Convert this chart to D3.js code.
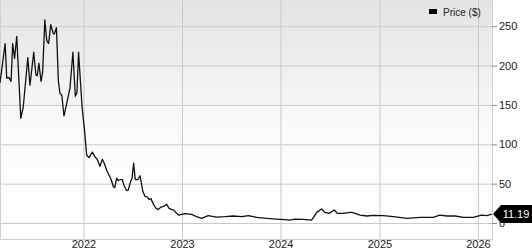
<!DOCTYPE html>
<html>
<head>
<meta charset="utf-8">
<script src="https://cdn.jsdelivr.net/npm/d3@7"></script>
<style>
  html, body { margin: 0; padding: 0; background: #fff; }
  svg { display: block; font-family: "Liberation Sans", Arial, sans-serif; }
</style>
</head>
<body>
<div id="chart"></div>
<script>
// Weekly-ish closing prices
const dates = [
  '2021-02-26', '2021-03-17', '2021-03-23', '2021-03-31', '2021-04-08', '2021-04-14', '2021-04-21', '2021-04-29',
  '2021-05-14', '2021-05-23', '2021-06-09', '2021-06-17', '2021-07-01', '2021-07-09', '2021-07-14', '2021-07-20',
  '2021-07-28', '2021-08-03', '2021-08-11', '2021-08-18', '2021-08-25', '2021-09-02', '2021-09-11', '2021-09-15',
  '2021-09-23', '2021-09-30', '2021-10-06', '2021-10-13', '2021-10-21', '2021-10-31', '2021-11-12', '2021-11-23',
  '2021-12-02', '2021-12-08', '2021-12-14', '2021-12-27', '2022-01-05', '2022-01-13', '2022-01-22', '2022-02-03',
  '2022-02-13', '2022-02-21', '2022-03-03', '2022-03-12', '2022-03-19', '2022-03-28', '2022-04-07', '2022-04-14',
  '2022-04-22', '2022-04-27', '2022-05-04', '2022-05-10', '2022-05-16', '2022-05-25', '2022-06-01', '2022-06-10',
  '2022-06-16', '2022-06-24', '2022-06-30', '2022-07-06', '2022-07-12', '2022-07-21', '2022-07-30', '2022-08-09',
  '2022-08-17', '2022-08-26', '2022-09-01', '2022-09-08', '2022-09-17', '2022-09-26', '2022-10-05', '2022-10-14',
  '2022-10-24', '2022-10-30', '2022-11-05', '2022-11-13', '2022-11-24', '2022-12-02', '2022-12-10', '2022-12-20',
  '2022-12-31', '2023-01-12', '2023-01-28', '2023-02-06', '2023-02-24', '2023-03-15', '2023-04-08', '2023-05-09',
  '2023-06-09', '2023-07-10', '2023-08-10', '2023-09-04', '2023-10-05', '2023-11-11', '2023-12-18', '2024-01-17',
  '2024-02-05', '2024-02-23', '2024-03-25', '2024-04-25', '2024-05-14', '2024-06-01', '2024-06-13', '2024-06-29',
  '2024-07-18', '2024-07-29', '2024-08-20', '2024-09-02', '2024-09-14', '2024-09-20', '2024-10-03', '2024-10-21',
  '2024-11-15', '2024-12-10', '2025-01-16', '2025-02-22', '2025-04-13', '2025-06-01', '2025-07-20', '2025-08-12',
  '2025-09-08', '2025-10-09', '2025-11-08', '2025-12-15', '2026-01-15', '2026-02-03', '2026-02-21'
];
const prices = [
  178, 228, 184, 185, 180, 228, 209, 237,
  133, 147, 210, 175, 217, 188, 187, 203,
  180, 192, 258, 232, 228, 252, 241, 240,
  248, 181, 165, 162, 136, 152, 171, 217,
  161, 166, 217, 147, 118, 86, 83, 90,
  84, 81, 72, 81, 76, 67, 60, 55,
  46, 45, 57, 54, 55, 55, 47, 41,
  42, 52, 57, 76, 55, 55, 60, 40,
  34, 33, 30, 31, 24, 19, 17, 20,
  21, 22, 24, 19, 17, 16.5, 13, 10,
  11, 12, 11.4, 11, 8, 6, 9.3, 7.6,
  8, 8.9, 8, 9.3, 7.2, 6, 5, 4.2,
  3.8, 5, 4.7, 3.8, 13.5, 17.8, 13.5, 12.3,
  16.5, 12.3, 12.3, 13, 13.5, 13.5, 12.3, 10,
  8.9, 9.7, 9.3, 8, 6, 7.2, 7.2, 10,
  8.9, 8.9, 7.2, 7.2, 10, 9.3, 11.19
];
const yTicks = [0, 50, 100, 150, 200, 250];
const xTickYears = ['2022', '2023', '2024', '2025', '2026'];
const seriesName = 'Price ($)';

const W = 532, H = 250;
const plotW = 492, plotH = 239;
const parse = d3.timeParse('%Y-%m-%d');
const data = dates.map((d, i) => ({ date: parse(d), value: prices[i] }));

const svg = d3.select('#chart').append('svg')
  .attr('width', W)
  .attr('height', H);

// background gradient (gray at top fading to white)
const defs = svg.append('defs');
const grad = defs.append('linearGradient')
  .attr('id', 'bg')
  .attr('x1', 0).attr('y1', 0).attr('x2', 0).attr('y2', 1);
grad.append('stop').attr('offset', '0%').attr('stop-color', '#e3e3e3');
grad.append('stop').attr('offset', '55%').attr('stop-color', '#fbfbfb');
grad.append('stop').attr('offset', '100%').attr('stop-color', '#ffffff');

svg.append('rect')
  .attr('width', plotW)
  .attr('height', plotH)
  .attr('fill', 'url(#bg)');

const x = d3.scaleTime()
  .domain([parse('2021-02-26'), parse('2026-02-22')])
  .range([0, plotW]);

const y = d3.scaleLinear()
  .domain([-20.3, 283.3])
  .range([plotH, 0]);

const yearDates = xTickYears.map(s => d3.timeParse('%Y')(s));

// grid lines
svg.append('g')
  .attr('class', 'grid grid--y')
  .call(d3.axisLeft(y).tickValues(yTicks).tickSize(-plotW).tickFormat(''))
  .call(g => g.select('.domain').remove())
  .selectAll('line')
  .attr('stroke', '#c9c9c9');

svg.append('g')
  .attr('class', 'grid grid--x')
  .attr('transform', `translate(0,${plotH})`)
  .call(d3.axisBottom(x).tickValues(yearDates).tickSize(-plotH).tickFormat(''))
  .call(g => g.select('.domain').remove())
  .selectAll('line')
  .attr('stroke', '#c9c9c9');

// plot frame (left, bottom, right)
svg.append('path')
  .attr('d', `M0.5,0V${plotH + 0.5}H${plotW + 0.5}V0`)
  .attr('fill', 'none')
  .attr('stroke', '#cfcfcf');

// price line
const line = d3.line()
  .x(d => x(d.date))
  .y(d => y(d.value));

svg.append('path')
  .datum(data)
  .attr('fill', 'none')
  .attr('stroke', '#111')
  .attr('stroke-width', 1.3)
  .attr('stroke-linejoin', 'round')
  .attr('d', line);

// right axis
svg.append('g')
  .attr('class', 'y-axis')
  .attr('transform', `translate(${plotW},0)`)
  .call(d3.axisRight(y).tickValues(yTicks).tickSize(5).tickPadding(2))
  .call(g => g.select('.domain').remove())
  .call(g => g.selectAll('line').attr('stroke', '#888'))
  .call(g => g.selectAll('text').attr('fill', '#222').style('font-size', '11px')
    .style('font-family', '"Liberation Sans", Arial, sans-serif'));

// bottom axis labels
svg.append('g')
  .attr('class', 'x-axis')
  .attr('transform', `translate(0,${plotH})`)
  .call(d3.axisBottom(x).tickValues(yearDates).tickSize(0).tickPadding(1.5).tickFormat(d3.timeFormat('%Y')))
  .call(g => g.select('.domain').remove())
  .call(g => g.selectAll('text').attr('fill', '#222').style('font-size', '11px')
    .style('font-family', '"Liberation Sans", Arial, sans-serif'));

// legend
const legend = svg.append('g').attr('class', 'legend');
legend.append('rect')
  .attr('x', 429).attr('y', 9)
  .attr('width', 8).attr('height', 5)
  .attr('fill', '#000');
legend.append('text')
  .attr('x', 443).attr('y', 15.5)
  .style('font-size', '10px')
  .attr('fill', '#222')
  .text(seriesName);

// last price flag
const last = data[data.length - 1];
const ly = Math.round(y(last.value));
const tip = plotW + 1;
svg.append('path')
  .attr('d', `M${tip},${ly} L${tip + 8},${ly - 9} H${W} V${ly + 9} H${tip + 8} Z`)
  .attr('fill', '#000');
svg.append('text')
  .attr('x', 516).attr('y', ly)
  .attr('dy', '0.36em')
  .attr('text-anchor', 'middle')
  .attr('fill', '#fff')
  .style('font-size', '11px')
  .text(d3.format('.2f')(last.value));
</script>
</body>
</html>
